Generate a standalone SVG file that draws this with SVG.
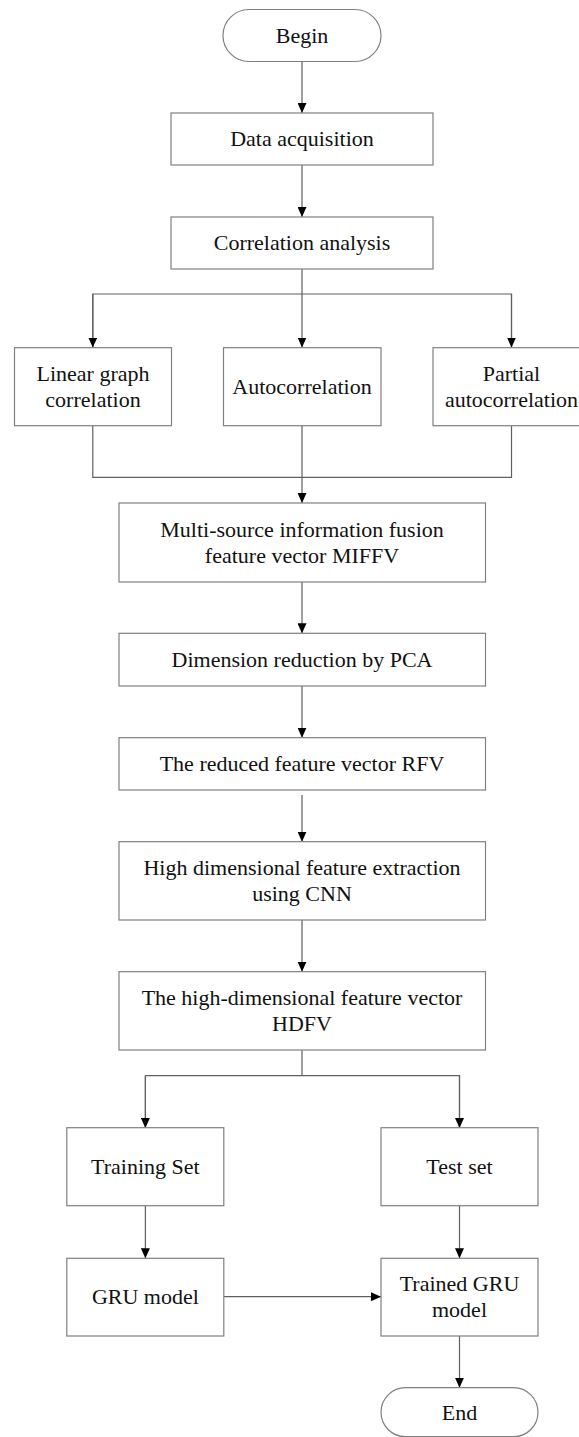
<svg xmlns="http://www.w3.org/2000/svg" width="579" height="1437" viewBox="0 0 579 1437">
<style>
.box{fill:#fff;stroke:#808080;stroke-width:1.2}
.t{font-family:"Liberation Serif","Times New Roman",serif;font-size:22px;fill:#111;text-anchor:middle}
.ln{fill:none;stroke:#606060;stroke-width:1.2}
</style>
<defs>
<marker id="ah" markerUnits="userSpaceOnUse" markerWidth="10" markerHeight="9" refX="10" refY="4.5" orient="auto">
<path d="M0,0 L10,4.5 L0,9 Z" fill="#000"/>
</marker>
</defs>
<rect width="579" height="1437" fill="#fff"/>
<g id="connectors">
<line class="ln" x1="302" y1="61.7" x2="302" y2="113" marker-end="url(#ah)"/>
<line class="ln" x1="302" y1="165" x2="302" y2="217" marker-end="url(#ah)"/>
<line class="ln" x1="302" y1="269" x2="302" y2="347.5" marker-end="url(#ah)"/>
<polyline class="ln" points="92.8,347.5 92.8,294 511.5,294 511.5,347.5"/>
<line class="ln" x1="92.8" y1="294" x2="92.8" y2="347.5" marker-end="url(#ah)"/>
<line class="ln" x1="511.5" y1="294" x2="511.5" y2="347.5" marker-end="url(#ah)"/>
<polyline class="ln" points="92.8,425.7 92.8,477.3 511.5,477.3 511.5,425.7"/>
<line class="ln" x1="302" y1="425.7" x2="302" y2="503" marker-end="url(#ah)"/>
<line class="ln" x1="302" y1="582" x2="302" y2="633.3" marker-end="url(#ah)"/>
<line class="ln" x1="302" y1="686" x2="302" y2="737.7" marker-end="url(#ah)"/>
<line class="ln" x1="302" y1="795" x2="302" y2="841.7" marker-end="url(#ah)"/>
<line class="ln" x1="302" y1="920" x2="302" y2="971.7" marker-end="url(#ah)"/>
<polyline class="ln" points="302,1050 302,1075.7"/>
<polyline class="ln" points="145.4,1128 145.4,1075.7 459.5,1075.7 459.5,1128"/>
<line class="ln" x1="145.4" y1="1075.7" x2="145.4" y2="1128" marker-end="url(#ah)"/>
<line class="ln" x1="459.5" y1="1075.7" x2="459.5" y2="1128" marker-end="url(#ah)"/>
<line class="ln" x1="145.4" y1="1205.7" x2="145.4" y2="1258.3" marker-end="url(#ah)"/>
<line class="ln" x1="459.5" y1="1205.7" x2="459.5" y2="1258.3" marker-end="url(#ah)"/>
<line class="ln" x1="223.8" y1="1296.7" x2="381" y2="1296.7" marker-end="url(#ah)"/>
<line class="ln" x1="459.5" y1="1336" x2="459.5" y2="1387.7" marker-end="url(#ah)"/>
</g>
<g id="begin"><rect class="box" x="223" y="9.5" width="158" height="52" rx="26" ry="26"/><text class="t" x="302" y="42.8">Begin</text></g>
<g id="data"><rect class="box" x="171" y="113" width="262" height="52"/><text class="t" x="302" y="146.3">Data acquisition</text></g>
<g id="corr"><rect class="box" x="171" y="217" width="262" height="52"/><text class="t" x="302" y="250.3">Correlation analysis</text></g>
<g id="linear"><rect class="box" x="14.5" y="347.7" width="157" height="78"/><text class="t" x="93" y="380.7">Linear graph</text><text class="t" x="93" y="406.7">correlation</text></g>
<g id="auto"><rect class="box" x="223.5" y="347.7" width="157.5" height="78"/><text class="t" x="302" y="394">Autocorrelation</text></g>
<g id="partial"><rect class="box" x="433" y="347.7" width="157" height="78"/><text class="t" x="511.5" y="380.7">Partial</text><text class="t" x="511.5" y="406.7">autocorrelation</text></g>
<g id="miffv"><rect class="box" x="119" y="503" width="366.5" height="79"/><text class="t" x="302" y="536.5">Multi-source information fusion</text><text class="t" x="302" y="562.5">feature vector MIFFV</text></g>
<g id="pca"><rect class="box" x="119" y="633.3" width="366.5" height="52.7"/><text class="t" x="302" y="667">Dimension reduction by PCA</text></g>
<g id="rfv"><rect class="box" x="119" y="737.7" width="366.5" height="52.3"/><text class="t" x="302" y="771.2">The reduced feature vector RFV</text></g>
<g id="cnn"><rect class="box" x="119" y="841.7" width="366.5" height="78.3"/><text class="t" x="302" y="874.5">High dimensional feature extraction</text><text class="t" x="302" y="900.5">using CNN</text></g>
<g id="hdfv"><rect class="box" x="119" y="971.7" width="366.5" height="78.3"/><text class="t" x="302" y="1004.5">The high-dimensional feature vector</text><text class="t" x="302" y="1030.5">HDFV</text></g>
<g id="train"><rect class="box" x="66.8" y="1127.7" width="157" height="78"/><text class="t" x="145.4" y="1174">Training Set</text></g>
<g id="test"><rect class="box" x="381" y="1127.7" width="157" height="78"/><text class="t" x="459.5" y="1174">Test set</text></g>
<g id="gru"><rect class="box" x="66.8" y="1258.3" width="157" height="77.7"/><text class="t" x="145.4" y="1304">GRU model</text></g>
<g id="trained"><rect class="box" x="381" y="1258.3" width="157" height="77.7"/><text class="t" x="459.5" y="1291">Trained GRU</text><text class="t" x="459.5" y="1317">model</text></g>
<g id="end"><rect class="box" x="381" y="1387.7" width="157" height="49" rx="24.5" ry="24.5"/><text class="t" x="459.5" y="1419.5">End</text></g>
</svg>
